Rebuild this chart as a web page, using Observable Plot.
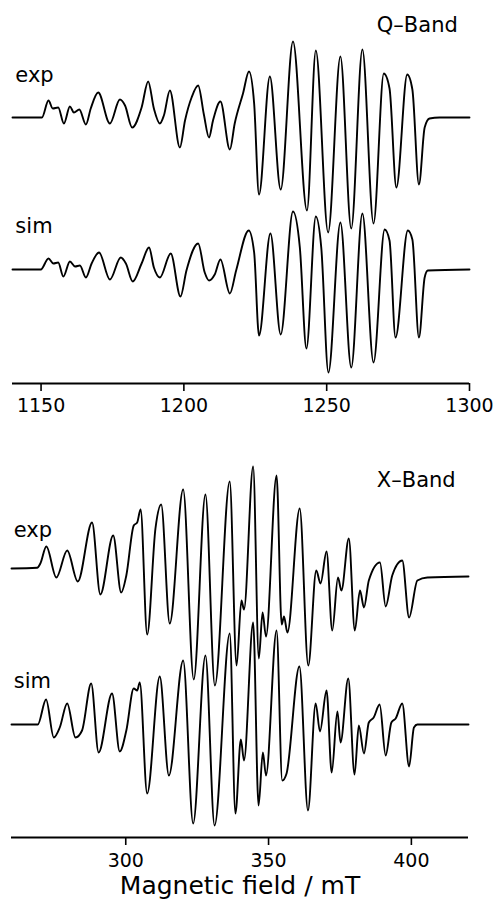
<!DOCTYPE html>
<html><head><meta charset="utf-8">
<script src="https://cdn.jsdelivr.net/npm/d3@7"></script>
<script src="https://cdn.jsdelivr.net/npm/@observablehq/plot@0.6"></script>
<style>
html,body{margin:0;padding:0;background:#fff;}
#chart{width:497px;}
#chart svg{display:block;}
</style></head><body><div id="chart"></div>
<script>
// Tick labels
const qTicks = [1150, 1200, 1250, 1300];
const xTicks = [300, 350, 400];
const axisLabel = "Magnetic field / mT";
const qTitle = "Q–Band";
const xTitle = "X–Band";
const seriesNames = ["exp", "sim"];

// [field (mT), derivative intensity (arb. units)]
const qExp = [[1140,0],[1150.3,0],[1152.6,17],[1154.1,9],[1156.0,10],[1158.0,-6],[1160.1,11],[1161.5,5],[1163.4,8],[1165.7,-7],[1167.4,9],[1170.0,25],[1174.1,-6],[1177.6,18],[1179.4,12],[1181.9,-10],[1185.2,10],[1187.5,36],[1189.5,9],[1191.6,-6],[1193.0,2],[1195.1,27],[1198.6,-30],[1200.4,-3],[1202.7,20],[1205.0,32],[1207.0,3],[1208.8,-20],[1210.2,-3],[1212.8,16],[1216.1,-32],[1217.8,-6],[1220.7,24],[1222.8,46],[1224.6,14],[1226.3,-77],[1230.1,41],[1233.9,-72],[1238.2,76],[1243.1,-93],[1246.2,67],[1250.5,-115],[1254.8,61],[1258.6,-111],[1262.5,68],[1266.4,-106],[1270.0,44],[1272.0,29],[1274.4,-70],[1278.2,43],[1280.0,28],[1282.3,-67],[1284.3,-10],[1286.0,-1],[1289.5,0],[1300,0]];
const qSim = [[1140,0],[1149.9,0],[1152.6,11],[1154.3,6],[1156.0,7],[1157.8,-7],[1160.1,8],[1161.9,3],[1163.6,4],[1165.7,-8],[1167.7,6],[1170.3,17],[1174.1,-10],[1177.9,12],[1179.7,6],[1182.1,-12],[1185.2,6],[1187.8,22],[1189.5,2],[1191.6,-8],[1195.4,16],[1198.8,-27],[1200.9,-1],[1205.0,26],[1207.3,-3],[1208.8,-11],[1210.8,-5],[1212.8,10],[1216.1,-24],[1218.3,-1],[1222.7,39],[1224.6,17],[1226.3,-66],[1230.3,36],[1233.9,-65],[1238.2,58],[1240.6,22],[1242.9,-79],[1246.2,53],[1248.1,22],[1250.6,-103],[1254.8,47],[1258.6,-98],[1262.5,56],[1266.4,-93],[1270.3,40],[1272.0,29],[1274.1,-68],[1278.4,39],[1280.0,30],[1282.3,-68],[1284.3,-8],[1285.4,-1],[1300,0]];
const xExp = [[260,0],[269.0,0.7],[270.1,5],[272.2,22],[275.7,-9],[279.5,18],[283.2,-13],[288.2,46],[291.1,-26],[295.6,33],[298.4,-24],[300.2,-7],[302.8,43],[304.0,46],[305.2,59],[307.5,-66],[310.4,40],[312.4,64],[315.4,-55],[320.1,79],[323.8,-111],[327.9,74],[331.2,-117],[336.4,87],[338.8,-97],[340.5,-32],[341.4,-41],[344.6,102],[346.6,-90],[347.9,-44],[349.1,-68],[352.8,93],[354.6,-56],[355.4,-48],[356.6,-64],[360.9,60],[363.9,-97],[366.7,-2],[368.2,-15],[370.3,17],[372.3,-62],[374.3,-9],[375.5,-22],[378.1,30],[380.2,-62],[382.0,-22],[383.4,-39],[385.1,-12],[389.0,6],[391.0,-38],[393.3,-7],[396.8,8],[399.2,-49],[402.1,-12],[405.6,-9],[420,-8]];
const xSim = [[260,0],[269.2,0],[272.1,25],[274.8,-13],[276.9,-3],[279.5,21],[282.4,-13],[284.7,-6],[287.9,41],[290.5,-28],[295.2,31],[297.9,-27],[300.2,-6],[302.8,36],[304.0,34],[304.9,42],[307.5,-69],[311.9,48],[315.1,-51],[320.1,64],[323.6,-99],[327.9,69],[331.1,-101],[336.4,91],[338.4,-89],[340.3,-15],[341.4,-36],[344.6,102],[346.5,-81],[348.0,-28],[349.1,-51],[352.8,94],[354.8,-56],[356.3,-49],[360.8,58],[363.8,-86],[366.5,21],[368.0,-7],[370.3,34],[372.1,-48],[374.1,13],[375.2,-18],[377.9,46],[380.1,-50],[381.6,-1],[383.4,-29],[385.1,2],[386.8,7],[388.9,20],[391.0,-31],[393.0,2],[394.5,6],[396.8,21],[399.2,-42],[400.9,-3],[402.1,0],[420,0]];

const FONT = "'DejaVu Sans', sans-serif";

function panel(o) {
  const rows = (arr, off) => arr.map(([f, v]) => ({f, v: v + off}));
  const marks = [
    Plot.line(rows(o.exp, o.expOff), {x: "f", y: "v", curve: "monotone-x", stroke: "#000", strokeWidth: 1.9}),
    Plot.line(rows(o.sim, o.simOff), {x: "f", y: "v", curve: "monotone-x", stroke: "#000", strokeWidth: 1.9}),
    Plot.ruleY([0], {stroke: "#000", strokeWidth: 2}),
    Plot.axisX(o.ticks, {tickSize: 8, tickPadding: o.tickPad, fontSize: 19, strokeWidth: 1.6, fontFamily: FONT, tickFormat: d => String(d), label: null}),
    Plot.text([o.title], {x: o.titleX, y: o.titleY, textAnchor: "end", lineAnchor: "bottom", fontSize: 21, fontFamily: FONT, fill: "#000"}),
    Plot.text([seriesNames[0]], {x: o.labX, y: o.expLabY, textAnchor: "start", lineAnchor: "bottom", fontSize: 21, fontFamily: FONT, fill: "#000"}),
    Plot.text([seriesNames[1]], {x: o.labX, y: o.simLabY, textAnchor: "start", lineAnchor: "bottom", fontSize: 21, fontFamily: FONT, fill: "#000"})
  ];
  if (o.xlabel) marks.push(Plot.text([o.xlabel], {frameAnchor: "bottom", dy: 56, lineAnchor: "bottom", fontSize: 25, fontFamily: FONT, fill: "#000"}));
  return Plot.plot({
    width: 497, height: o.height,
    marginTop: 0, marginBottom: o.mb, marginLeft: o.ml, marginRight: o.mr,
    style: {fontFamily: FONT, background: "#fff", color: "#000", overflow: "visible"},
    x: {domain: o.domain, axis: null},
    y: {domain: [0, o.height - o.mb], axis: null},
    marks
  });
}

const chart = document.getElementById("chart");
chart.appendChild(panel({
  exp: qExp, sim: qSim, expOff: 266, simOff: 114,
  domain: [1140, 1300], ticks: qTicks, tickPad: 7,
  height: 425, mb: 42, ml: 12, mr: 28,
  title: qTitle, titleX: 1295.9, titleY: 351.3,
  labX: 1141.0, expLabY: 302, simLabY: 150.3
}));
chart.appendChild(panel({
  exp: xExp, sim: xSim, expOff: 269, simOff: 113,
  domain: [260, 420], ticks: xTicks, tickPad: 8,
  height: 476, mb: 64, ml: 11, mr: 29,
  title: xTitle, titleX: 415.5, titleY: 350.3,
  labX: 260.8, expLabY: 301, simLabY: 149.7,
  xlabel: axisLabel
}));
</script>
</body></html>
